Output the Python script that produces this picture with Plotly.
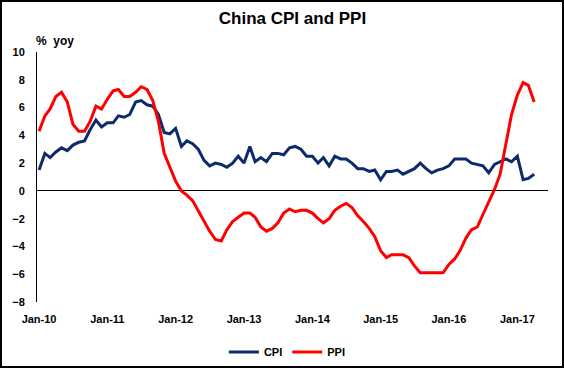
import plotly.graph_objects as go
import pandas as pd

months = pd.date_range("2010-01-01", "2017-04-01", freq="MS")

cpi = [1.5, 2.7, 2.4, 2.8, 3.1, 2.9, 3.3, 3.5, 3.6, 4.4, 5.1, 4.6,
       4.9, 4.9, 5.4, 5.3, 5.5, 6.4, 6.5, 6.2, 6.1, 5.5, 4.2, 4.1,
       4.5, 3.2, 3.6, 3.4, 3.0, 2.2, 1.8, 2.0, 1.9, 1.7, 2.0, 2.5,
       2.0, 3.2, 2.1, 2.4, 2.1, 2.7, 2.7, 2.6, 3.1, 3.2, 3.0, 2.5,
       2.5, 2.0, 2.4, 1.8, 2.5, 2.3, 2.3, 2.0, 1.6, 1.6, 1.4, 1.5,
       0.8, 1.4, 1.4, 1.5, 1.2, 1.4, 1.6, 2.0, 1.6, 1.3, 1.5, 1.6,
       1.8, 2.3, 2.3, 2.3, 2.0, 1.9, 1.8, 1.3, 1.9, 2.1, 2.3, 2.1,
       2.5, 0.8, 0.9, 1.2]

ppi = [4.3, 5.4, 5.9, 6.8, 7.1, 6.4, 4.8, 4.3, 4.3, 5.0, 6.1, 5.9,
       6.6, 7.2, 7.3, 6.8, 6.8, 7.1, 7.5, 7.3, 6.5, 5.0, 2.7, 1.7,
       0.7, 0.0, -0.3, -0.7, -1.4, -2.1, -2.9, -3.5, -3.6, -2.8, -2.2, -1.9,
       -1.6, -1.6, -1.9, -2.6, -2.9, -2.7, -2.3, -1.6, -1.3, -1.5, -1.4, -1.4,
       -1.6, -2.0, -2.3, -2.0, -1.4, -1.1, -0.9, -1.2, -1.8, -2.2, -2.7, -3.3,
       -4.3, -4.8, -4.6, -4.6, -4.6, -4.8, -5.4, -5.9, -5.9, -5.9, -5.9, -5.9,
       -5.3, -4.9, -4.3, -3.4, -2.8, -2.6, -1.7, -0.8, 0.1, 1.2, 3.3, 5.5,
       6.9, 7.8, 7.6, 6.4]

y_ticks = [10, 8, 6, 4, 2, 0, -2, -4, -6, -8]

FONT = "Liberation Sans, Arial, sans-serif"

fig = go.Figure()
fig.add_trace(go.Scatter(x=months, y=cpi, name="CPI", mode="lines",
                         line=dict(color="#0D2A6B", width=3)))
fig.add_trace(go.Scatter(x=months, y=ppi, name="PPI", mode="lines",
                         line=dict(color="#FF0000", width=3)))

fig.update_layout(
    width=564, height=368,
    margin=dict(l=37, r=16, t=52, b=66, autoexpand=False),
    paper_bgcolor="white", plot_bgcolor="white",
    font=dict(family=FONT, size=11, color="black"),
    title=dict(text="<b>China CPI and PPI</b>", x=0.5, xref="paper",
               xanchor="center", y=1 - 18 / 368, yanchor="middle",
               font=dict(size=17, family=FONT, color="black", weight="bold")),
    showlegend=True,
    legend=dict(orientation="h", x=0.49, xanchor="center", y=-0.2,
                yanchor="middle",
                font=dict(size=11, family=FONT, color="black", weight="bold"),
                bgcolor="rgba(0,0,0,0)", itemwidth=30, tracegroupgap=0),
    xaxis=dict(type="date", range=["2009-12-21", "2017-06-14"],
               tickvals=[f"{y}-01-01" for y in range(2010, 2018)],
               tickformat="%b-%y", showgrid=False, zeroline=False,
               showline=False, ticks="", ticklabelstandoff=9,
               tickfont=dict(size=11, family=FONT, color="black", weight="bold")),
    yaxis=dict(range=[-8, 10], tickvals=y_ticks, showgrid=False,
               zeroline=True, zerolinecolor="black", zerolinewidth=1,
               showline=True, linecolor="black", linewidth=1, ticks="",
               ticklabelstandoff=9,
               tickfont=dict(size=11, family=FONT, color="black", weight="bold")),
)

fig.add_annotation(text="<b>%  yoy</b>", xref="paper", yref="paper",
                   x=-3 / 511, y=1 + 11 / 250, xanchor="left", yanchor="middle",
                   showarrow=False, font=dict(size=12, family=FONT, color="black"))

# outer frame
fig.add_shape(type="rect", xref="paper", yref="paper",
              x0=-36 / 511, x1=1 + 15 / 511, y0=-65 / 250, y1=1 + 51 / 250,
              line=dict(color="black", width=2), fillcolor="rgba(0,0,0,0)")

fig.write_html("out.html", config={"displayModeBar": False},
               post_script="document.body.style.margin='0';")
